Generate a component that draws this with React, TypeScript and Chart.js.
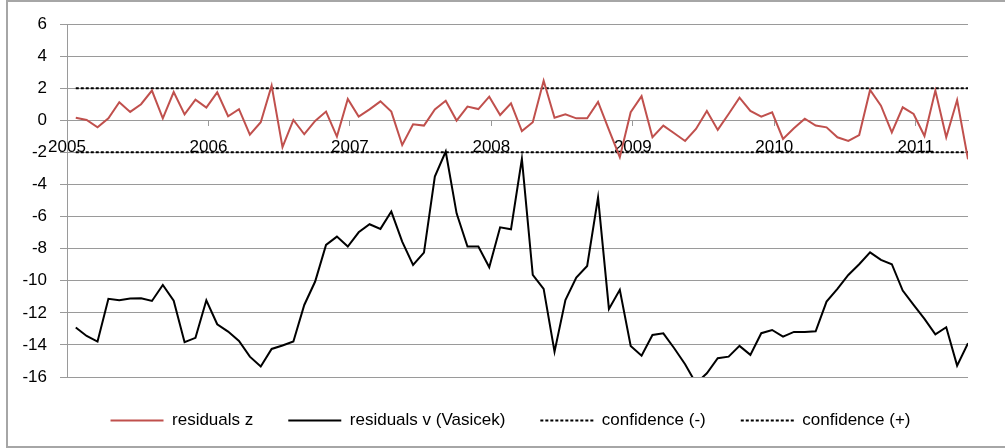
import React, { useEffect, useRef } from "react";
import { Chart, registerables } from "chart.js";

Chart.register(...registerables);

// Year ticks on the (date) x axis
const YEAR_TICKS = [2005, 2006, 2007, 2008, 2009, 2010, 2011];
// 4-weekly observations: first observation (decimal year) and periods per year
const FIRST_PERIOD = 2005.062;
const PERIODS_PER_YEAR = 13;

const RESIDUALS_Z = [
  0.16, 0.02, -0.44, 0.12, 1.12, 0.52, 1.0, 1.85, 0.12, 1.76,
  0.37, 1.28, 0.79, 1.74, 0.25, 0.69, -0.9, -0.12, 2.16, -1.68,
  0.02, -0.87, -0.04, 0.54, -1.02, 1.33, 0.23, 0.68, 1.18, 0.54,
  -1.54, -0.25, -0.33, 0.68, 1.22, -0.02, 0.85, 0.7, 1.47, 0.33,
  1.06, -0.67, -0.12, 2.47, 0.16, 0.37, 0.12, 0.12, 1.14, -0.6,
  -2.3, 0.5, 1.5, -1.06, -0.33, -0.81, -1.29, -0.54, 0.58, -0.6,
  0.39, 1.41, 0.58, 0.23, 0.5, -1.16, -0.5, 0.1, -0.33, -0.44,
  -1.06, -1.29, -0.92, 1.89, 0.91, -0.75, 0.81, 0.39, -0.98, 1.85,
  -1.06, 1.26, -2.43,
];

const RESIDUALS_V = [
  -12.92, -13.44, -13.79, -11.13, -11.21, -11.11, -11.09, -11.26, -10.26, -11.24,
  -13.83, -13.56, -11.22, -12.71, -13.17, -13.75, -14.73, -15.35, -14.25, -14.04,
  -13.79, -11.51, -10.05, -7.77, -7.25, -7.87, -6.98, -6.48, -6.77, -5.69,
  -7.56, -9.02, -8.25, -3.51, -1.95, -5.8, -7.87, -7.87, -9.16, -6.67,
  -6.79, -2.41, -9.64, -10.51, -14.42, -11.2, -9.8, -9.08, -4.8, -11.76,
  -10.57, -14.06, -14.67, -13.38, -13.28, -14.21, -15.2, -16.4, -15.77, -14.83,
  -14.73, -14.06, -14.62, -13.27, -13.07, -13.48, -13.19, -13.19, -13.15, -11.3,
  -10.51, -9.64, -8.97, -8.23, -8.7, -8.97, -10.61, -11.51, -12.38, -13.34,
  -12.9, -15.29, -13.9,
];

const CONF_LOW = -2;
const CONF_HIGH = 2;

const Y_MIN = -16;
const Y_MAX = 6;
const Y_STEP = 2;

const LABELS = ["residuals z", "residuals v (Vasicek)", "confidence (-)", "confidence (+)"];

const PERIODS = RESIDUALS_Z.map((_, i) => FIRST_PERIOD + i / PERIODS_PER_YEAR);

const FONT = "'Liberation Sans', Arial, sans-serif";
const GRID = "#9a9a9a";

const shiftLegend = {
  id: "shiftLegend",
  afterLayout(chart: any) {
    if (chart.legend) {
      chart.legend.left = 53;
    }
  },
};

export default function App() {
  const ref = useRef<HTMLCanvasElement | null>(null);

  useEffect(() => {
    if (!ref.current) return;
    Chart.defaults.font.family = FONT;
    const toPts = (vals: number[]) => PERIODS.map((x, i) => ({ x, y: vals[i] }));
    const constPts = (v: number) => PERIODS.map((x) => ({ x, y: v }));
    const chart = new Chart(ref.current, {
      type: "line",
      data: {
        datasets: [
          {
            label: LABELS[0],
            data: toPts(RESIDUALS_Z),
            borderColor: "#c0504d",
            backgroundColor: "#c0504d",
            borderWidth: 2,
            pointRadius: 0,
            tension: 0,
          },
          {
            label: LABELS[1],
            data: toPts(RESIDUALS_V),
            borderColor: "#000000",
            backgroundColor: "#000000",
            borderWidth: 2,
            pointRadius: 0,
            tension: 0,
          },
          {
            label: LABELS[2],
            data: constPts(CONF_LOW),
            borderColor: "#000000",
            backgroundColor: "#000000",
            borderWidth: 2,
            borderDash: [3, 2],
            pointRadius: 0,
          },
          {
            label: LABELS[3],
            data: constPts(CONF_HIGH),
            borderColor: "#000000",
            backgroundColor: "#000000",
            borderWidth: 2,
            borderDash: [3, 2],
            pointRadius: 0,
          },
        ],
      },
      plugins: [shiftLegend],
      options: {
        animation: false,
        responsive: false,
        maintainAspectRatio: false,
        layout: { padding: { left: 0, right: 37, top: 24, bottom: 9 } },
        plugins: {
          tooltip: { enabled: false },
          legend: {
            position: "bottom",
            labels: {
              usePointStyle: true,
              pointStyle: "line",
              pointStyleWidth: 53,
              padding: 35,
              color: "#000000",
              font: { family: FONT, size: 17 },
              generateLabels: (ch: any) => {
                const base = (Chart as any).defaults.plugins.legend.labels.generateLabels(ch);
                return base.map((item: any) => {
                  const ds = ch.data.datasets[item.datasetIndex];
                  return {
                    ...item,
                    strokeStyle: ds.borderColor,
                    fillStyle: ds.borderColor,
                    lineWidth: ds.borderWidth,
                    lineDash: ds.borderDash || [],
                    pointStyle: "line",
                  };
                });
              },
            },
          },
        },
        scales: {
          x: {
            type: "linear",
            position: { y: 0 },
            min: YEAR_TICKS[0],
            max: PERIODS[PERIODS.length - 1],
            afterBuildTicks: (scale: any) => {
              scale.ticks = YEAR_TICKS.map((v) => ({ value: v }));
            },
            ticks: {
              includeBounds: false,
              autoSkip: false,
              maxRotation: 0,
              padding: 12,
              color: "#000000",
              font: { family: FONT, size: 17 },
              callback: (v: any) => String(v),
            },
            grid: {
              drawOnChartArea: false,
              drawTicks: true,
              tickLength: 5,
              color: GRID,
              lineWidth: 1,
            },
            border: { display: true, color: GRID, width: 1 },
          },
          y: {
            type: "linear",
            min: Y_MIN,
            max: Y_MAX,
            afterFit: (scale: any) => {
              scale.width = 67;
            },
            ticks: {
              stepSize: Y_STEP,
              padding: 13,
              color: "#000000",
              font: { family: FONT, size: 17 },
            },
            grid: {
              color: GRID,
              lineWidth: 1,
              tickLength: 7,
            },
            border: { display: true, color: GRID, width: 1 },
          },
        },
      },
    });
    return () => chart.destroy();
  }, []);

  return (
    <div
      style={{
        position: "fixed",
        left: 0,
        top: 0,
        width: 1005,
        height: 448,
        overflow: "hidden",
        background: "#ffffff",
      }}
    >
      <div
        style={{
          position: "absolute",
          left: 6,
          top: 0,
          width: 1100,
          height: 448,
          boxSizing: "border-box",
          border: "2px solid #a6a6a6",
        }}
      />
      <canvas
        ref={ref}
        width={1005}
        height={448}
        style={{ position: "absolute", left: 0, top: 0, width: 1005, height: 448 }}
      />
    </div>
  );
}
